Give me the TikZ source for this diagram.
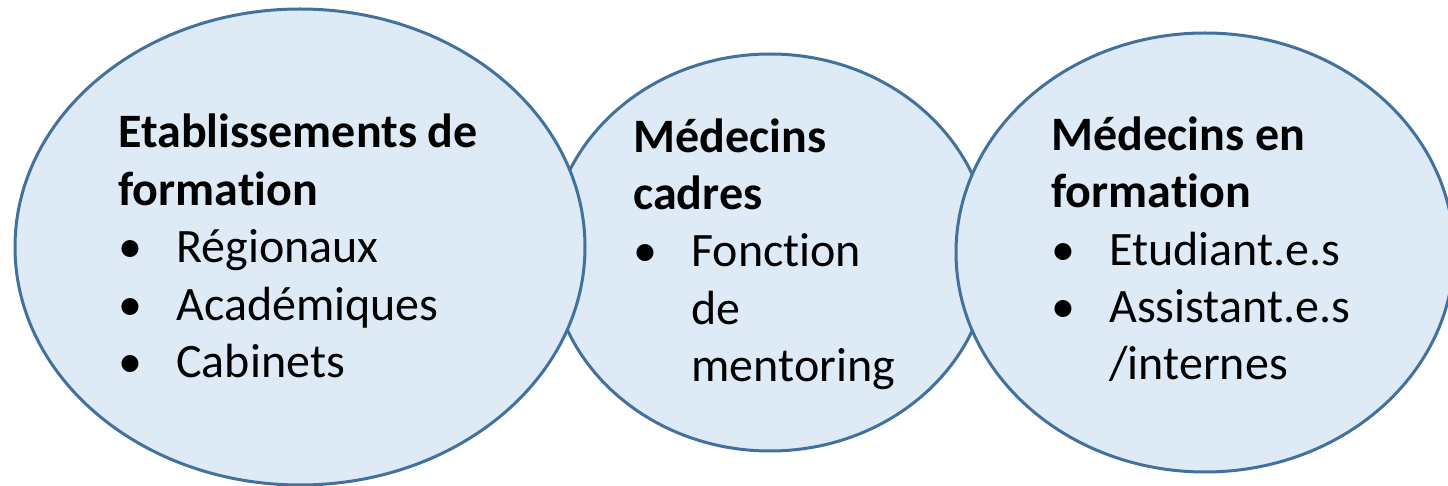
\documentclass[tikz,border=0pt]{standalone}
\usepackage{fontspec}
\setmainfont[Ligatures=NoCommon]{Carlito}
\usetikzlibrary{shapes.geometric}
\definecolor{bubblefill}{HTML}{DEEAF6}
\definecolor{bubbleline}{HTML}{41719C}
\newcommand{\itembullet}{\makebox[29pt][l]{•}}
\newcommand{\itemgap}{\hspace*{29pt}}
\newcommand{\headline}[1]{{\bfseries #1}}
\begin{document}
\begin{tikzpicture}[x=0.5pt,y=-0.5pt,
	bubble/.style={ellipse,draw=bubbleline,fill=bubblefill,line width=1.5pt,inner sep=0},
	bubbletext/.style={anchor=base west,align=left,inner sep=0,
	font=\fontsize{24}{28.75}\selectfont}]
\useasboundingbox (0,0) rectangle (1448,486);
% the middle one lies under the other two
\node[bubble,minimum width=220pt,minimum height=198.5pt] (cadres) at (770,252.5) {};
\node[bubble,minimum width=285pt,minimum height=238pt] (etab) at (300,247) {};
\node[bubble,minimum width=249pt,minimum height=219.5pt] (forma) at (1205,252.5) {};
% texts, placed by the baseline of their last line
\node[bubbletext] (etabtext) at (118,378) {\headline{Etablissements de}\\
	\headline{formation}\\
	\itembullet Régionaux\\
	\itembullet Académiques\\
	\itembullet Cabinets};
\node[bubbletext] (cadrestext) at (633,382) {\headline{Médecins}\\
	\headline{cadres}\\
	\itembullet Fonction\\
	\itemgap de\\
	\itemgap mentoring};
\node[bubbletext] (formatext) at (1051,380) {\headline{Médecins en}\\
	\headline{formation}\\
	\itembullet Etudiant.e.s\\
	\itembullet Assistant.e.s\\
	\itemgap /internes};
\end{tikzpicture}
\end{document}
